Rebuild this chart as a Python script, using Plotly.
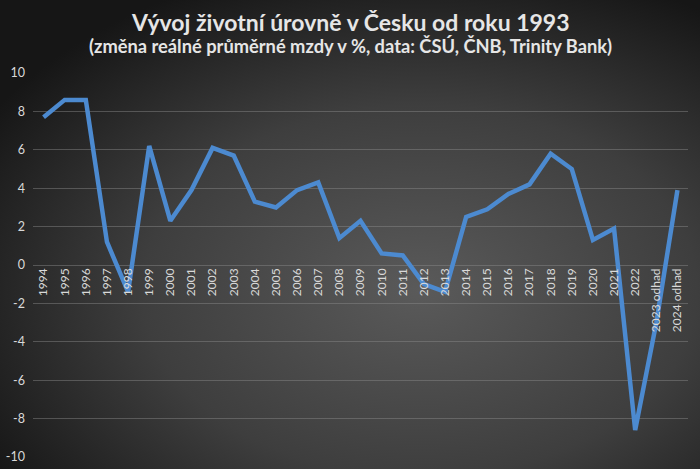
import base64
import plotly.graph_objects as go

years = ["1994", "1995", "1996", "1997", "1998", "1999", "2000", "2001", "2002", "2003",
         "2004", "2005", "2006", "2007", "2008", "2009", "2010", "2011", "2012", "2013",
         "2014", "2015", "2016", "2017", "2018", "2019", "2020", "2021", "2022",
         "2023 odhad", "2024 odhad"]
wage_change = [7.7, 8.6, 8.6, 1.2, -1.4, 6.2, 2.3, 3.9, 6.1, 5.7,
               3.3, 3.0, 3.9, 4.3, 1.4, 2.3, 0.6, 0.5, -1.0, -1.4,
               2.5, 2.9, 3.7, 4.2, 5.8, 5.0, 1.3, 1.9, -8.6,
               -3.0, 3.9]
y_ticks = [-10, -8, -6, -4, -2, 0, 2, 4, 6, 8, 10]

W, H = 700, 469
ML, MR, MT, MB = 33, 12, 73, 12
pw, ph = W - ML - MR, H - MT - MB

svg = f'''<svg xmlns="http://www.w3.org/2000/svg" width="{W}" height="{H}" viewBox="0 0 {W} {H}" preserveAspectRatio="none">
<defs><radialGradient id="g" cx="0.6" cy="0.62" r="0.72" gradientUnits="objectBoundingBox">
<stop offset="0" stop-color="rgb(90,90,90)"/>
<stop offset="0.55" stop-color="rgb(62,62,62)"/>
<stop offset="1" stop-color="rgb(22,22,22)"/>
</radialGradient></defs>
<rect width="{W}" height="{H}" fill="url(#g)"/></svg>'''
src = "data:image/svg+xml;base64," + base64.b64encode(svg.encode()).decode()

fig = go.Figure()
fig.add_trace(go.Scatter(
    x=years, y=wage_change, mode="lines",
    line=dict(color="#4C8AD0", width=4.5),
    hoverinfo="skip",
))

fig.update_layout(
    template="none",
    width=W, height=H,
    margin=dict(l=ML, r=MR, t=MT, b=MB, autoexpand=False),
    paper_bgcolor="#333333",
    plot_bgcolor="rgba(0,0,0,0)",
    showlegend=False,
    hovermode=False,
    images=[dict(source=src, xref="paper", yref="paper",
                 x=-ML / pw, y=1 + MT / ph, sizex=W / pw, sizey=H / ph,
                 xanchor="left", yanchor="top", sizing="stretch", layer="below")],
    annotations=[
        dict(text="<b>Vývoj životní úrovně v Česku od roku 1993</b>",
             xref="paper", yref="paper", x=(350 - ML) / pw, y=1 + (MT - 22) / ph,
             xanchor="center", yanchor="middle", showarrow=False,
             font=dict(family="Lato", size=23, color="#E6E6E6")),
        dict(text="<b>(změna reálné průměrné mzdy v %, data: ČSÚ, ČNB, Trinity Bank)</b>",
             xref="paper", yref="paper", x=(350 - ML) / pw, y=1 + (MT - 46) / ph,
             xanchor="center", yanchor="middle", showarrow=False,
             font=dict(family="Lato", size=18.3, color="#E6E6E6")),
    ],
    xaxis=dict(
        type="category", range=[-0.5, len(years) - 0.5],
        anchor="free", position=0.5, automargin=False,
        tickangle=-90, showgrid=False, zeroline=False, showline=False,
        ticks="", tickfont=dict(family="Lato", size=12, color="#D9D9D9"),
    ),
    yaxis=dict(
        range=[-10, 10], tickvals=y_ticks, ticktext=[str(v) for v in y_ticks],
        automargin=False, ticklabelstandoff=7,
        showgrid=True, gridcolor="rgba(140,140,140,0.45)", gridwidth=1,
        zeroline=False, showline=False, ticks="",
        tickfont=dict(family="Lato", size=12.5, color="#D9D9D9"),
    ),
)

fig.write_html(
    "out.html",
    config={"displayModeBar": False, "staticPlot": True},
    post_script="document.body.style.margin='0';document.body.style.overflow='hidden';",
)
